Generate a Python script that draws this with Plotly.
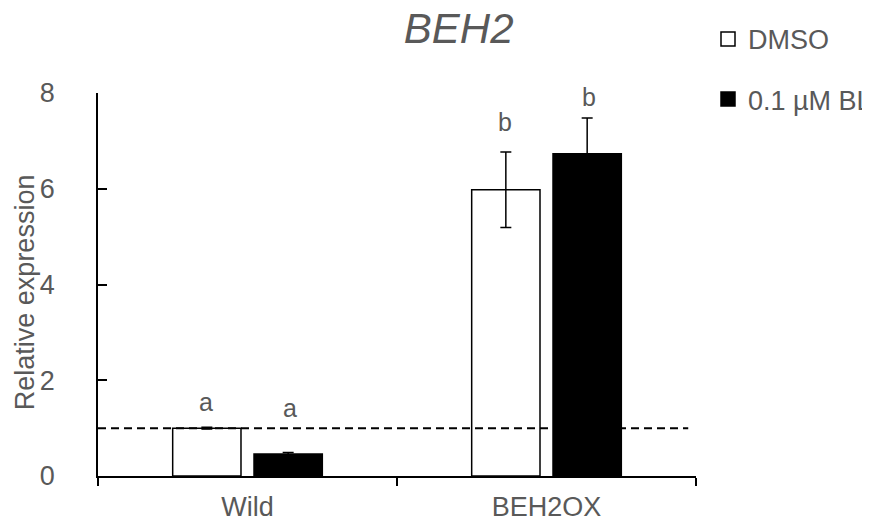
import plotly.graph_objects as go

categories = ["Wild", "BEH2OX"]
dmso_values = [1.0, 5.98]
dmso_errors = [0.02, 0.79]
bl_values = [0.46, 6.73]
bl_errors = [0.03, 0.75]
dmso_letters = ["a", "b"]
bl_letters = ["a", "b"]
dmso_letter_y = [1.55, 7.40]
bl_letter_y = [1.42, 7.91]
reference_level = 1.0
y_ticks = [0, 2, 4, 6, 8]

FONT = "Liberation Sans, Arial, sans-serif"
GREY = "#595959"

fig = go.Figure()
fig.add_trace(go.Bar(
    x=categories, y=dmso_values, name="DMSO", showlegend=False,
    marker=dict(color="white", line=dict(color="black", width=1.5)),
    error_y=dict(type="data", array=dmso_errors, visible=True,
                 color="black", thickness=1.5, width=5.5),
))
fig.add_trace(go.Bar(
    x=categories, y=bl_values, name="0.1 µM BL", showlegend=False,
    marker=dict(color="black", line=dict(color="black", width=1.5)),
    error_y=dict(type="data", array=bl_errors, visible=True,
                 color="black", thickness=1.5, width=5.5),
))

# legend entries (square markers)
fig.add_trace(go.Scatter(
    x=[None], y=[None], mode="markers", name="DMSO", legendgroup="g1",
    marker=dict(symbol="square", size=14, color="white",
                line=dict(color="black", width=1.5)),
))
fig.add_trace(go.Scatter(
    x=[None], y=[None], mode="markers", name="0.1 µM BL", legendgroup="g2",
    marker=dict(symbol="square", size=14, color="black",
                line=dict(color="black", width=1.5)),
))

# significance letters
for cat, lab, ly in zip(categories, dmso_letters, dmso_letter_y):
    fig.add_annotation(x=cat, y=ly, text=lab, showarrow=False, xshift=-42,
                       font=dict(family=FONT, size=25, color=GREY))
for cat, lab, ly in zip(categories, bl_letters, bl_letter_y):
    fig.add_annotation(x=cat, y=ly, text=lab, showarrow=False, xshift=42,
                       font=dict(family=FONT, size=25, color=GREY))

# y-axis title
fig.add_annotation(xref="paper", yref="paper", x=-0.122, y=0.48,
                   text="Relative expression", textangle=-90, showarrow=False,
                   xanchor="center", yanchor="middle",
                   font=dict(family=FONT, size=27, color=GREY))

# dashed reference line
fig.add_shape(type="line", xref="paper", x0=0, x1=0.987, yref="y",
              y0=reference_level, y1=reference_level,
              line=dict(color="black", width=2, dash="8px,5px"))

fig.update_layout(
    width=870, height=526,
    margin=dict(l=90, r=165, t=85, b=51),
    paper_bgcolor="white", plot_bgcolor="white",
    barmode="group", bargap=0.456, bargroupgap=0.16,
    title=dict(text="BEH2", x=0.518, xanchor="center", y=0.99, yanchor="top",
               font=dict(family=FONT, size=42, color=GREY, style="italic")),
    font=dict(family=FONT, size=27, color=GREY),
    legend=dict(xref="container", yref="container", x=0.8046, xanchor="left",
                y=0.987, yanchor="top",
                tracegroupgap=22, font=dict(family=FONT, size=27, color=GREY),
                bgcolor="rgba(0,0,0,0)", itemwidth=30),
    xaxis=dict(showline=True, linecolor="black", linewidth=1.5,
               ticks="outside", tickson="boundaries", ticklen=8,
               tickcolor="black", tickwidth=1.5, ticklabelstandoff=6,
               tickfont=dict(family=FONT, size=27, color=GREY),
               showgrid=False, zeroline=False),
    yaxis=dict(range=[0, 8], tickvals=y_ticks, showline=True, linecolor="black",
               linewidth=1.5, ticks="inside", ticklen=9, tickcolor="black",
               tickwidth=1.5, showgrid=False, zeroline=False, ticklabelstandoff=36,
               tickfont=dict(family=FONT, size=27, color=GREY)),
)

fig.write_html("out.html")
